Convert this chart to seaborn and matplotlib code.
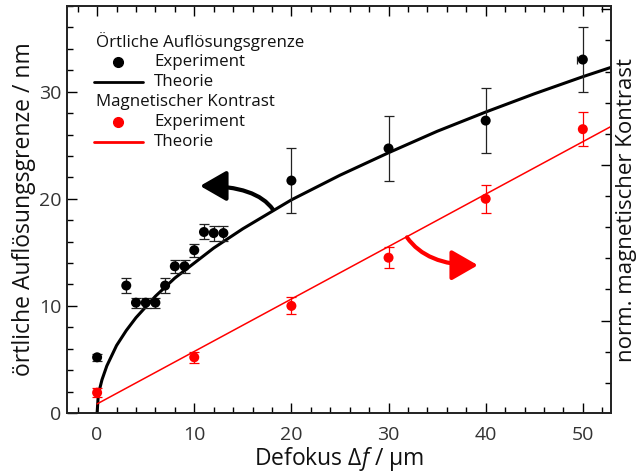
import numpy as np
import pandas as pd
import seaborn as sns
import matplotlib
matplotlib.use("Agg")
import matplotlib.pyplot as plt
from matplotlib.lines import Line2D
from matplotlib.patches import FancyArrowPatch, ArrowStyle
from matplotlib.ticker import MultipleLocator, NullFormatter

# ---- data ----
res_x = [0, 3, 4, 5, 6, 7, 8, 9, 10, 11, 12, 13, 20, 30, 40, 50]
res_y = [5.2, 11.9, 10.3, 10.3, 10.3, 11.9, 13.7, 13.7, 15.2, 16.9, 16.8, 16.8, 21.7, 24.7, 27.3, 33.0]
res_err = [0.3, 0.7, 0.45, 0.45, 0.45, 0.7, 0.6, 0.6, 0.6, 0.7, 0.7, 0.7, 3.0, 3.0, 3.0, 3.0]

mag_x = [0, 10, 20, 30, 40, 50]
mag_y = [1.9, 5.2, 10.0, 14.5, 20.0, 26.5]
mag_err = [0.45, 0.5, 0.8, 1.0, 1.3, 1.6]

res_theo_x = [0, 0.1, 0.25, 0.5, 1, 2, 3, 4, 5, 6, 8, 10, 12, 15, 20, 25, 30, 35, 40, 45, 50, 53]
res_theo_y = [0, 1.4, 2.2, 3.1, 4.4, 6.3, 7.7, 8.9, 9.9, 10.9, 12.6, 14.0, 15.4, 17.2, 19.9, 22.2, 24.3, 26.3, 28.1, 29.8, 31.4, 32.3]

mag_theo_x = [0, 53]
mag_theo_y = [0.85, 26.8]

x_ticks = [0, 10, 20, 30, 40, 50]
y_ticks = [0, 10, 20, 30]

sns.set_theme(style="ticks")
plt.rcParams['font.family'] = ['Open Sans', 'DejaVu Sans']
plt.rcParams['mathtext.fontset'] = 'custom'
plt.rcParams['mathtext.it'] = 'Open Sans:italic'
plt.rcParams['mathtext.rm'] = 'Open Sans'

fig = plt.figure(figsize=(6.44, 4.76), dpi=100)
ax = fig.add_axes([67/644, 63/476, 544/644, 407/476])

# theory curves
sns.lineplot(x=res_theo_x, y=res_theo_y, ax=ax, color='black', lw=2.2, sort=False, zorder=3)
sns.lineplot(x=mag_theo_x, y=mag_theo_y, ax=ax, color='#ff0000', lw=1.1, sort=False, zorder=3)

# experiment points with error bars
ax.errorbar(res_x, res_y, yerr=res_err, fmt='none', ecolor='#222222', elinewidth=0.9,
            capsize=3.6, capthick=0.9, zorder=4)
ax.errorbar([res_x[-1]], [res_y[-1]], xerr=[[0.6], [0]], fmt='none', ecolor='#222222',
            elinewidth=0.9, capsize=3.0, capthick=0.9, zorder=4)
ax.errorbar(mag_x, mag_y, yerr=mag_err, fmt='none', ecolor='#ff0000', elinewidth=0.9,
            capsize=3.6, capthick=0.9, zorder=4)
sns.scatterplot(x=res_x, y=res_y, ax=ax, color='black', s=52, edgecolor='none', zorder=5)
sns.scatterplot(x=mag_x, y=mag_y, ax=ax, color='#ff0000', s=52, edgecolor='none', zorder=5)

# arrows
style = ArrowStyle("-|>", head_length=0.8, head_width=0.46)
a1 = FancyArrowPatch((18.1, 19.0), (10.6, 21.2), connectionstyle="angle3,angleA=125,angleB=0",
                     arrowstyle=style, mutation_scale=20, lw=3.0, color='black', zorder=6,
                     shrinkA=0, shrinkB=0)
ax.add_patch(a1)
a2 = FancyArrowPatch((31.9, 16.4), (39.2, 13.8), connectionstyle="angle3,angleA=-55,angleB=0",
                     arrowstyle=style, mutation_scale=20, lw=3.0, color='#ff0000', zorder=6,
                     shrinkA=0, shrinkB=0)
ax.add_patch(a2)

ax.set_xlim(-3.1, 52.9)
ax.set_ylim(0, 38.0)
ax.set_xticks(x_ticks)
ax.set_yticks(y_ticks)
ax.xaxis.set_minor_locator(MultipleLocator(2))
ax.yaxis.set_minor_locator(MultipleLocator(2))
ax.tick_params(which='both', direction='in', top=True, right=False, colors='black',
               labelcolor='#333333', labelsize=14, width=1.0)
ax.tick_params(which='major', length=7)
ax.tick_params(which='minor', length=4)
ax.tick_params(axis='x', which='major', pad=9)
ax.tick_params(axis='y', which='major', pad=4)
for s in ax.spines.values():
    s.set_linewidth(1.2)
    s.set_color('black')

ax.set_xlabel(r"Defokus $\Delta f$ / µm", fontsize=16.5, color='#111111', labelpad=1)
ax.set_ylabel("örtliche Auflösungsgrenze / nm", fontsize=16.5, color='#111111', labelpad=2)

# right axis (no labels)
ax2 = ax.twinx()
ax2.set_ylim(0.1406, 0.4021)
ax2.yaxis.set_major_locator(MultipleLocator(0.1))
ax2.yaxis.set_minor_locator(MultipleLocator(0.02))
ax2.yaxis.set_major_formatter(NullFormatter())
ax2.tick_params(which='both', direction='in', colors='black', width=1.0)
ax2.tick_params(which='major', length=7)
ax2.tick_params(which='minor', length=4)
ax2.set_ylabel("norm. magnetischer Kontrast", fontsize=16, color='#111111', labelpad=0)
for s in ax2.spines.values():
    s.set_linewidth(1.2)

# manual legend
fs = 12.2
tr = ax.transAxes
rows = [0.912, 0.862, 0.813, 0.764, 0.715, 0.666]
ax.text(0.053, rows[0], "Örtliche Auflösungsgrenze", transform=tr, fontsize=fs, va='center', ha='left', color='#111111')
ax.add_line(Line2D([0.094], [rows[1]], transform=tr, marker='o', markersize=7, color='black', lw=0))
ax.text(0.160, rows[1], "Experiment", transform=tr, fontsize=fs, va='center', ha='left', color='#111111')
ax.add_line(Line2D([0.050, 0.139], [rows[2], rows[2]], transform=tr, color='black', lw=2.0))
ax.text(0.160, rows[2], "Theorie", transform=tr, fontsize=fs, va='center', ha='left', color='#111111')
ax.text(0.053, rows[3], "Magnetischer Kontrast", transform=tr, fontsize=fs, va='center', ha='left', color='#111111')
ax.add_line(Line2D([0.094], [rows[4]], transform=tr, marker='o', markersize=7, color='#ff0000', lw=0))
ax.text(0.160, rows[4], "Experiment", transform=tr, fontsize=fs, va='center', ha='left', color='#111111')
ax.add_line(Line2D([0.050, 0.139], [rows[5], rows[5]], transform=tr, color='#ff0000', lw=2.0))
ax.text(0.160, rows[5], "Theorie", transform=tr, fontsize=fs, va='center', ha='left', color='#111111')

fig.savefig("out.png", dpi=100)
